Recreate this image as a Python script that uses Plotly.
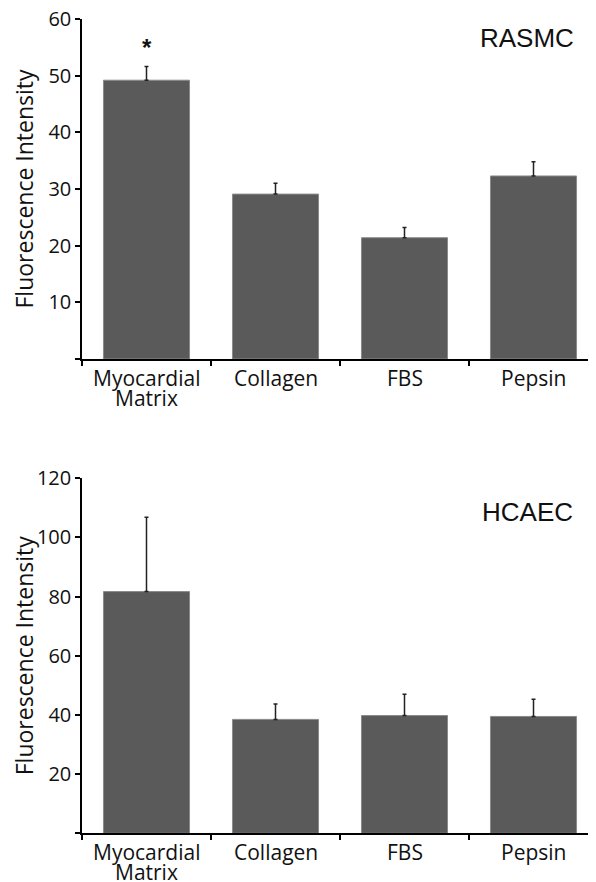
import plotly.graph_objects as go

categories = ["Myocardial Matrix", "Collagen", "FBS", "Pepsin"]
rasmc_values = [49.2, 29.1, 21.4, 32.3]
rasmc_err = [2.4, 1.9, 1.8, 2.5]
hcaec_values = [81.7, 38.5, 39.8, 39.5]
hcaec_err = [25.1, 5.2, 7.2, 5.8]

# page is offset by the default 8px body margin; the figure fills the rest
OFF = 8
W, H = 596 - OFF, 882 - OFF
BAR = "#5a5a5a"
FONT = "Open Sans"
TXT = "#111"
TICKFONT = dict(family=FONT, size=20, color=TXT)


def px(xp):
    return (xp - OFF) / W


def py(yp):
    return (H - (yp - OFF)) / H


fig = go.Figure()
for vals, errs, xa, ya in [(rasmc_values, rasmc_err, "x", "y"),
                           (hcaec_values, hcaec_err, "x2", "y2")]:
    fig.add_trace(go.Bar(
        x=categories, y=vals, width=0.667,
        marker=dict(color=BAR, line=dict(color="#8a8a8a", width=1)),
        error_y=dict(type="data", array=errs, symmetric=False,
                     arrayminus=[0] * len(errs), color="#222",
                     thickness=1.5, width=2),
        xaxis=xa, yaxis=ya, showlegend=False, hoverinfo="skip"))

xdom = [px(82), 1.0]
xrange = [-0.5, 3.5 - 2 / 129]
common_x = dict(domain=xdom, range=xrange, type="category", tickson="boundaries",
                ticks="outside", ticklen=5, tickwidth=1.5, tickcolor="black",
                showline=True, linecolor="black", linewidth=1.5,
                showticklabels=False, showgrid=False, zeroline=False,
                automargin=False)
common_y = dict(ticks="outside", ticklen=5, tickwidth=1.5, tickcolor="black",
                showline=True, linecolor="black", linewidth=1.5,
                tickfont=TICKFONT, showgrid=False, zeroline=False,
                automargin=False, ticklabeloverflow="allow")

top_dom = [py(359), py(19)]
bot_dom = [py(833.3), py(478.3)]

annotations = []
for xa, ya, dom in [("x", "y", top_dom), ("x2", "y2", bot_dom)]:
    for c in categories:
        words = c.split(" ")
        for i, w in enumerate(words):
            annotations.append(dict(
                text=w, x=c, y=0, xref=xa, yref=ya, yanchor="middle",
                yshift=-19 - 20 * i, showarrow=False,
                font=dict(family=FONT, size=21, color=TXT)))
    annotations.append(dict(
        text="Fluorescence Intensity", textangle=-90,
        x=px(23.5), y=(dom[0] + dom[1]) / 2, xref="paper", yref="paper",
        xanchor="center", yanchor="middle", showarrow=False,
        font=dict(family=FONT, size=23, color=TXT)))

annotations += [
    dict(text="RASMC", x=px(527), y=py(38), xref="paper", yref="paper",
         xanchor="center", yanchor="middle",
         showarrow=False, font=dict(family="Liberation Sans", size=26, color=TXT)),
    dict(text="HCAEC", x=px(527), y=py(511.7), xref="paper", yref="paper",
         xanchor="center", yanchor="middle",
         showarrow=False, font=dict(family="Liberation Sans", size=26, color=TXT)),
    dict(text="<b>*</b>", x=categories[0], y=rasmc_values[0] + rasmc_err[0],
         xref="x", yref="y", yanchor="bottom", yshift=4, showarrow=False,
         font=dict(family="Liberation Sans", size=24, color=TXT)),
]

fig.update_layout(
    width=W, height=H, margin=dict(l=0, r=0, t=0, b=0),
    paper_bgcolor="white", plot_bgcolor="white",
    xaxis=dict(**common_x, anchor="y"),
    yaxis=dict(**common_y, anchor="x", domain=top_dom,
               range=[0, 60], tickvals=[0, 10, 20, 30, 40, 50, 60],
               ticktext=["", "10", "20", "30", "40", "50", "60"]),
    xaxis2=dict(**common_x, anchor="y2"),
    yaxis2=dict(**common_y, anchor="x2", domain=bot_dom,
                range=[0, 120], tickvals=[0, 20, 40, 60, 80, 100, 120],
                ticktext=["", "20", "40", "60", "80", "100", "120"]),
    annotations=annotations,
)

fig.write_html("out.html")
